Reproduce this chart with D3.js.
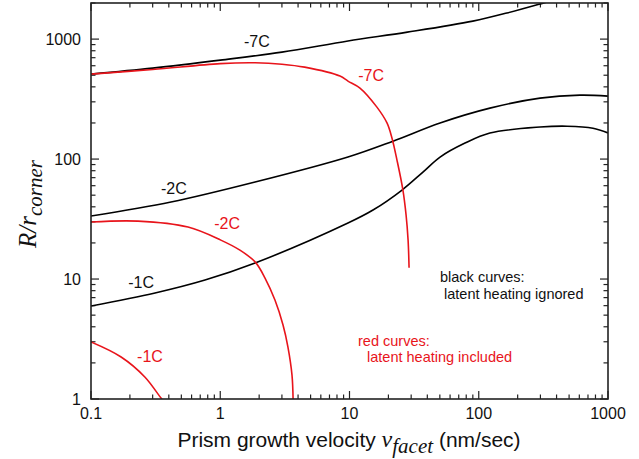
<!DOCTYPE html>
<html><head><meta charset="utf-8">
<script src="https://cdn.jsdelivr.net/npm/d3@7"></script>
<style>body{margin:0;background:#fff;}svg{display:block;}</style>
</head><body>
<script>
// ---- data ----
const xTickValues = [0.1, 1, 10, 100, 1000];
const yTickValues = [1, 10, 100, 1000];
const xDomain = [0.1, 1000];
const yDomain = [1, 2000];

const black7C = [[0.1,511],[0.3,573],[1,668],[3,779],[9.73,965],[28,1143],[90,1413],[165,1650],[314,1995],[400,2150]];
const red7C   = [[0.1,511],[0.3,558],[1,625],[1.86,635],[3,618],[4.5,584],[8.44,492],[9.73,447],[12.05,391],[16.3,271],[19.5,200],[21.3,150],[23.3,98.1],[25.9,55.2],[27.4,34.2],[28.4,21.1],[28.9,12.4]];
const black2C = [[0.1,33.5],[0.416,43.8],[1.86,64.3],[9.73,104],[21.7,141],[50.2,200],[122,266],[298,322],[607,341],[1000,335]];
const black1C = [[0.1,5.96],[0.313,7.65],[0.762,9.81],[1.86,13.6],[9.73,29.3],[15.2,37.6],[25.5,55.2],[37,77.9],[50.2,104],[78.3,136],[122,165],[298,185],[482,188],[765,181],[1000,165]];
const red2C   = [[0.1,29.9],[0.231,30.4],[0.563,27.1],[1.01,21.1],[1.42,17.4],[1.86,13.9],[2.22,10.2],[2.65,6.68],[3.06,4.14],[3.34,2.71],[3.59,1.58],[3.66,1.0]];
const red1C   = [[0.1,2.99],[0.171,2.24],[0.262,1.52],[0.348,1.02],[0.355,1.0]];

const curveLabels = [
  {text:"-7C", x:1.92, y:858,  color:"black"},
  {text:"-7C", x:14.7, y:447,  color:"red"},
  {text:"-2C", x:0.438,y:51.1, color:"black"},
  {text:"-2C", x:1.13, y:26.1, color:"red"},
  {text:"-1C", x:0.244,y:8.41, color:"black"},
  {text:"-1C", x:0.286,y:2.03, color:"red"}
];

// ---- layout ----
const W = 639, H = 459;
const L = 91, R = 608, T = 3, B = 399;
const RED = "#e8141b";

const svg = d3.select("body").append("svg").attr("width", W).attr("height", H)
  .style("font-family", "'Liberation Sans', Arial, sans-serif");

const x = d3.scaleLog().domain(xDomain).range([L, R]);
const y = d3.scaleLog().domain(yDomain).range([B, T]);

svg.append("defs").append("clipPath").attr("id","clip")
  .append("rect").attr("x",L).attr("y",T).attr("width",R-L).attr("height",B-T);

// minor ticks
function minorVals(domain){
  const out=[];
  for(let e=-2;e<=4;e++){for(let m=1;m<=9;m++){const v=m*Math.pow(10,e);
    if(v>=domain[0]*0.999 && v<=domain[1]*1.001) out.push({v, major:m===1});}}
  return out;
}
const xt = minorVals(xDomain), yt = minorVals(yDomain);
const tg = svg.append("g").attr("stroke","#222").attr("stroke-width",1.2);
xt.forEach(t=>{
  const len = t.major?8:4.5, px=x(t.v);
  tg.append("line").attr("x1",px).attr("x2",px).attr("y1",B).attr("y2",B-len);
  tg.append("line").attr("x1",px).attr("x2",px).attr("y1",T).attr("y2",T+len);
});
yt.forEach(t=>{
  const len = t.major?8:4.5, py=y(t.v);
  tg.append("line").attr("x1",L).attr("x2",L+len).attr("y1",py).attr("y2",py);
  tg.append("line").attr("x1",R).attr("x2",R-len).attr("y1",py).attr("y2",py);
});

// tick labels
svg.append("g").selectAll("text").data(xTickValues).join("text")
  .attr("x",d=>x(d)).attr("y",419).attr("text-anchor","middle")
  .attr("font-size",16).attr("fill","#111").text(d=>d3.format("~g")(d));
svg.append("g").selectAll("text").data(yTickValues).join("text")
  .attr("x",81).attr("y",d=>y(d)+6).attr("text-anchor","end")
  .attr("font-size",16).attr("fill","#111").text(d=>d3.format("~g")(d));

// curves
const line = d3.line().x(d=>x(d[0])).y(d=>y(d[1])).curve(d3.curveCatmullRom.alpha(0.5));
const cg = svg.append("g").attr("clip-path","url(#clip)").attr("fill","none").attr("stroke-width",1.6);
[[black7C,"black"],[black2C,"black"],[black1C,"black"],[red7C,RED],[red2C,RED],[red1C,RED]]
  .forEach(([d,c])=>cg.append("path").attr("d",line(d)).attr("stroke",c));

// frame
svg.append("rect").attr("x",L).attr("y",T).attr("width",R-L).attr("height",B-T)
  .attr("fill","none").attr("stroke","#222").attr("stroke-width",1.6);

// curve labels
svg.append("g").selectAll("text").data(curveLabels).join("text")
  .attr("x",d=>x(d.x)).attr("y",d=>y(d.y)).attr("text-anchor","middle")
  .attr("font-size",16).attr("fill",d=>d.color==="red"?RED:"#111").text(d=>d.text);

// annotation text
const ann = svg.append("g").attr("font-size",14.5);
ann.append("text").attr("x",440).attr("y",282).attr("fill","#111").text("black curves:");
ann.append("text").attr("x",444).attr("y",299).attr("fill","#111").text("latent heating ignored");
ann.append("text").attr("x",358).attr("y",346).attr("fill",RED).text("red curves:");
ann.append("text").attr("x",367).attr("y",362).attr("fill",RED).text("latent heating included");

// x axis title
const xt1 = svg.append("text").attr("x",349).attr("y",447).attr("text-anchor","middle")
  .attr("font-size",21).attr("fill","#111");
xt1.append("tspan").text("Prism growth velocity ");
xt1.append("tspan").attr("font-family","'Liberation Serif', 'Times New Roman', serif")
  .attr("font-style","italic").attr("font-size",24).text("v");
xt1.append("tspan").attr("font-family","'Liberation Serif', 'Times New Roman', serif")
  .attr("font-style","italic").attr("font-size",21).attr("dy",6).text("facet");
xt1.append("tspan").attr("dy",-6).text(" (nm/sec)");

// y axis title
const yt1 = svg.append("text").attr("transform","translate(36,204) rotate(-90)")
  .attr("text-anchor","middle").attr("fill","#111")
  .attr("font-family","'Liberation Serif', 'Times New Roman', serif").attr("font-style","italic");
yt1.append("tspan").attr("font-size",25).text("R/r");
yt1.append("tspan").attr("font-size",21).attr("dy",6).text("corner");
</script>
</body></html>
